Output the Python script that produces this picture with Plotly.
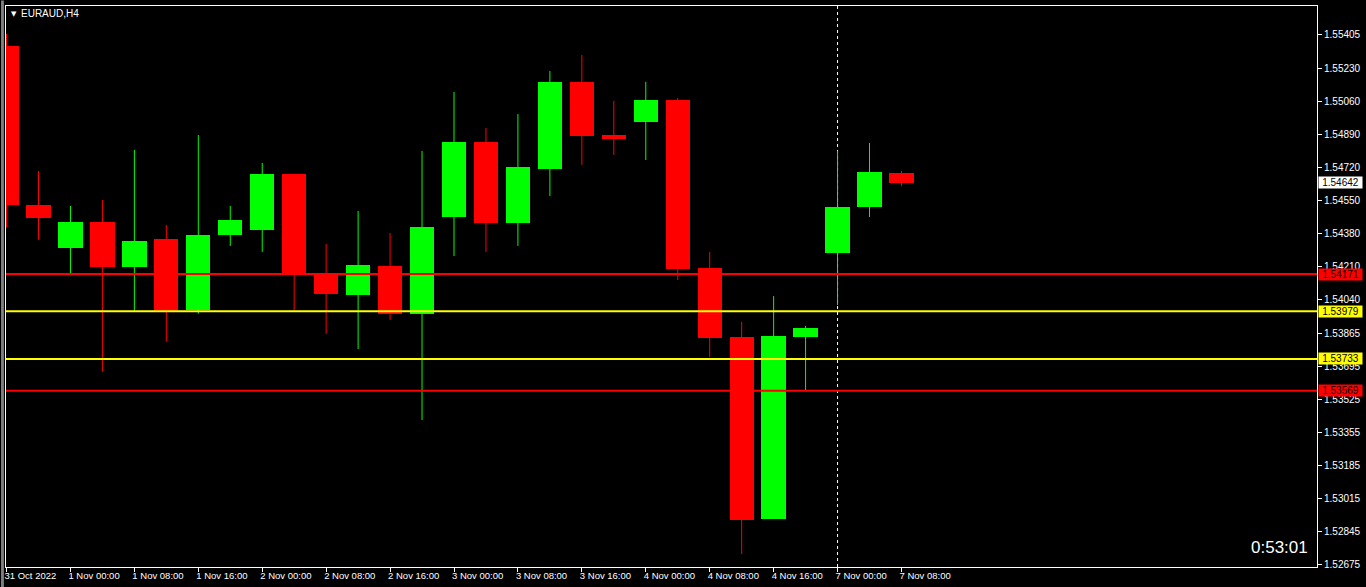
import plotly.graph_objects as go

# EURAUD H4 bars, 31 Oct 16:00 .. 7 Nov 08:00
opens = [1.55347, 1.54527, 1.54305, 1.54439, 1.54207, 1.54352, 1.53985, 1.54372,
         1.54398, 1.54687, 1.54171, 1.54063, 1.54212, 1.53965, 1.54465, 1.54852,
         1.54434, 1.54713, 1.55162, 1.54888, 1.54955, 1.55069, 1.54202, 1.53846,
         1.52907, 1.53846, 1.54279, 1.54517, 1.54692]
highs = [1.55409, 1.54702, 1.54522, 1.54553, 1.54811, 1.54424, 1.54888, 1.54522,
         1.54744, 1.54687, 1.54326, 1.54496, 1.54383, 1.54806, 1.55110, 1.54924,
         1.54996, 1.55218, 1.55301, 1.55064, 1.55162, 1.55079, 1.54285, 1.53923,
         1.54057, 1.53903, 1.54806, 1.54847, 1.54702]
lows = [1.54410, 1.54348, 1.54167, 1.53667, 1.53975, 1.53822, 1.53966, 1.54316,
        1.54285, 1.53982, 1.53862, 1.53784, 1.53934, 1.53418, 1.54264, 1.54285,
        1.54316, 1.54573, 1.54733, 1.54785, 1.54759, 1.54140, 1.53743, 1.52726,
        1.52907, 1.53567, 1.54011, 1.54465, 1.54625]
closes = [1.54527, 1.54461, 1.54439, 1.54207, 1.54341, 1.53980, 1.54372, 1.54450,
          1.54687, 1.54175, 1.54068, 1.54217, 1.53965, 1.54414, 1.54852, 1.54434,
          1.54723, 1.55162, 1.54883, 1.54868, 1.55069, 1.54197, 1.53841, 1.52902,
          1.53851, 1.53892, 1.54517, 1.54697, 1.54642]

x_labels = ["31 Oct 2022", "1 Nov 00:00", "1 Nov 08:00", "1 Nov 16:00", "2 Nov 00:00",
            "2 Nov 08:00", "2 Nov 16:00", "3 Nov 00:00", "3 Nov 08:00", "3 Nov 16:00",
            "4 Nov 00:00", "4 Nov 08:00", "4 Nov 16:00", "7 Nov 00:00", "7 Nov 08:00"]
y_labels = ["1.55405", "1.55230", "1.55060", "1.54890", "1.54720", "1.54550", "1.54380",
            "1.54210", "1.54040", "1.53865", "1.53695", "1.53525", "1.53355", "1.53185",
            "1.53015", "1.52845", "1.52675"]

# horizontal levels: (price, colour)
levels = [(1.54171, "#FF0000"), (1.53979, "#FFFF00"), (1.53733, "#FFFF00"), (1.53569, "#FF0000")]
bid = 1.54642
separator_bar = 26  # 7 Nov 00:00

RED = "#FF0000"
GREEN = "#00FF00"
FONT = "Liberation Sans"

idx = list(range(len(opens)))
colors = [GREEN if c >= o else RED for o, c in zip(opens, closes)]

fig = go.Figure()

# wicks
for col in (RED, GREEN):
    wx, wy = [], []
    for i in idx:
        if colors[i] == col:
            wx += [i, i, None]
            wy += [lows[i], highs[i], None]
    fig.add_trace(go.Scatter(x=wx, y=wy, mode="lines", line=dict(color=col, width=1),
                             hoverinfo="skip", showlegend=False))

# bodies
fig.add_trace(go.Bar(
    x=idx,
    y=[abs(c - o) for o, c in zip(opens, closes)],
    base=[min(o, c) for o, c in zip(opens, closes)],
    width=0.76,
    marker=dict(color=colors, line=dict(width=0)),
    showlegend=False))

shapes = [dict(type="line", xref="x", yref="paper", x0=separator_bar, x1=separator_bar,
               y0=0, y1=1, line=dict(color="white", width=1, dash="3px,3px"), layer="below")]
for p, col in levels:
    shapes.append(dict(type="line", xref="paper", yref="y", x0=0, x1=1, y0=p, y1=p,
                       line=dict(color=col, width=2), layer="above"))
# window frame strip on the left
shapes.append(dict(type="rect", xref="paper", yref="paper", x0=-0.0038, x1=-0.0016,
                   y0=-0.04, y1=1.01, fillcolor="#7f7f7f", line=dict(width=0)))

annotations = []
for p, col in levels + [(bid, "#FFFFFF")]:
    annotations.append(dict(xref="paper", yref="y", x=1, y=p, xanchor="left", yanchor="middle",
                            xshift=1, text=f"{p:.5f}", showarrow=False, bgcolor=col,
                            width=41, height=9, borderpad=1,
                            font=dict(family=FONT, size=10, color="black")))
annotations += [
    dict(xref="paper", yref="paper", x=0.0022, y=0.986, xanchor="left", yanchor="middle",
         text="▼", showarrow=False, font=dict(family="DejaVu Sans", size=7, color="white")),
    dict(xref="paper", yref="paper", x=0.0100, y=0.986, xanchor="left", yanchor="middle",
         text="EURAUD,H4", showarrow=False, font=dict(family=FONT, size=10, color="white")),
    dict(xref="paper", yref="paper", x=0.9916, y=0.034, xanchor="right", yanchor="middle",
         xshift=4, text="0:53:01", showarrow=False,
         font=dict(family=FONT, size=17, color="white")),
]

fig.update_layout(
    width=1366, height=587,
    margin=dict(l=5, r=48, t=6, b=20),
    paper_bgcolor="black", plot_bgcolor="black",
    bargap=0, shapes=shapes, annotations=annotations,
    showlegend=False,
)
fig.update_xaxes(
    range=[-0.016, 41.0], showgrid=False, zeroline=False,
    tickmode="array", tickvals=idx[::2], ticktext=x_labels,
    ticks="outside", ticklen=4, tickcolor="white",
    ticklabelposition="outside right", ticklabelshift=-3,
    tickfont=dict(family=FONT, size=9.5, color="white"),
    showline=True, linecolor="white", linewidth=1, mirror=True,
)
fig.update_yaxes(
    side="right", range=[1.526595, 1.555535], showgrid=False, zeroline=False,
    tickmode="array", tickvals=[float(s) for s in y_labels], ticktext=y_labels,
    ticks="outside", ticklen=4, tickcolor="white",
    tickfont=dict(family=FONT, size=10, color="white"),
    showline=True, linecolor="white", linewidth=1, mirror=True,
)

fig.write_html("out.html", config={"displayModeBar": False},
               post_script="document.body.style.margin='0';")
